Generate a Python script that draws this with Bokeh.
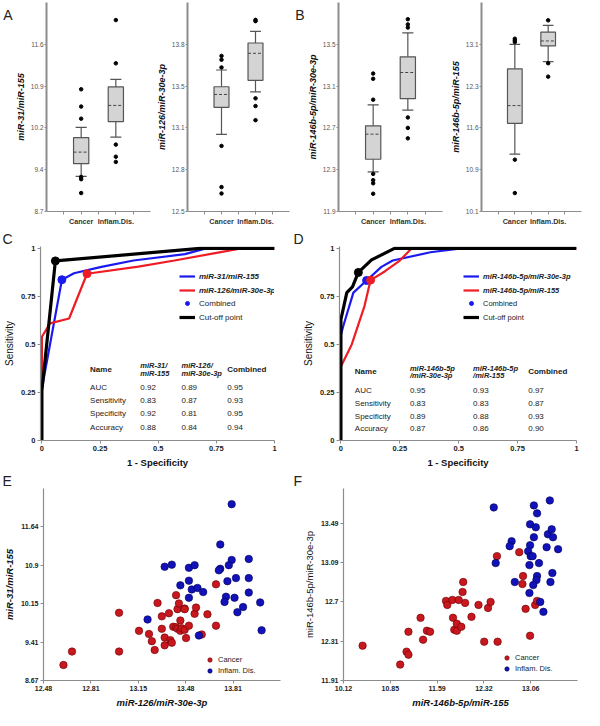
from bokeh.plotting import figure
from bokeh.layouts import column, row
from bokeh.models import Range1d, FixedTicker, Legend, LegendItem, LinearAxis, Title
from bokeh.core.properties import value
from bokeh.embed import file_html
from bokeh.resources import INLINE

FONT = "Liberation Sans"

# ---------------- A / B : box plots ----------------
box_groups = ["Cancer", "Inflam.Dis."]

a1_q1 = [9.53, 10.26]
a1_median = [9.73, 10.54]
a1_q3 = [9.98, 10.86]
a1_low = [9.31, 9.99]
a1_high = [10.16, 10.99]
a1_out_cancer = [10.82, 10.52, 10.31, 9.30, 9.26, 9.02]
a1_out_inflam = [12.02, 11.27, 9.86, 9.65, 9.56]
a1_ticks = ["8.7", "9.4", "10.2", "10.9", "11.6"]

a2_q1 = [13.31, 13.52]
a2_median = [13.41, 13.73]
a2_q3 = [13.47, 13.81]
a2_low = [13.10, 13.43]
a2_high = [13.60, 13.90]
a2_out_cancer = [13.71, 13.68, 13.62, 13.01, 12.69, 12.64]
a2_out_inflam = [13.99, 13.98, 13.38, 13.32, 13.21]
a2_ticks = ["12.5", "12.8", "13.1", "13.5", "13.8"]

b1_q1 = [12.40, 12.98]
b1_median = [12.64, 13.23]
b1_q3 = [12.72, 13.38]
b1_low = [12.28, 12.87]
b1_high = [12.92, 13.61]
b1_out_cancer = [13.22, 13.17, 12.97, 12.26, 12.20, 12.17, 12.07]
b1_out_inflam = [13.74, 13.69, 13.66, 12.80, 12.70, 12.60]
b1_ticks = ["11.9", "12.3", "12.7", "13.1", "13.5"]

b2_q1 = [11.68, 13.07]
b2_median = [12.00, 13.16]
b2_q3 = [12.66, 13.32]
b2_low = [11.13, 12.79]
b2_high = [13.10, 13.44]
b2_out_cancer = [13.20, 13.17, 13.14, 11.03, 10.43]
b2_out_inflam = [13.53, 12.76, 12.52]
b2_ticks = ["10.1", "10.9", "11.6", "12.3", "13.1"]

# ---------------- C / D : ROC curves ----------------
roc_ticks = ["0", "0.25", "0.5", "0.75", "1"]
c_blue_fpr = [0, 0, 0.086, 0.138, 0.256, 0.394, 0.615, 0.705, 1.0]
c_blue_tpr = [0, 0.27, 0.837, 0.871, 0.904, 0.937, 0.970, 1.0, 1.0]
c_red_fpr = [0, 0, 0.035, 0.117, 0.194, 0.415, 0.570, 0.857, 1.0]
c_red_tpr = [0, 0.54, 0.61, 0.635, 0.868, 0.905, 0.937, 1.0, 1.0]
c_black_fpr = [0, 0, 0.058, 0.68, 1.0]
c_black_tpr = [0, 0.26, 0.935, 1.0, 1.0]
c_cut_fpr = [0.086, 0.194, 0.058]
c_cut_tpr = [0.837, 0.868, 0.935]
c_names = ["miR-31/miR-155", "miR-126/miR-30e-3p"]
c_head1 = ["miR-31/", "miR-126/"]
c_head2 = ["miR-155", "miR-30e-3p"]
c_col1 = [0.92, 0.83, 0.92, 0.88]
c_col2 = [0.89, 0.87, 0.81, 0.84]
c_comb = [0.95, 0.93, 0.95, 0.94]

d_blue_fpr = [0, 0, 0.011, 0.053, 0.109, 0.172, 0.22, 0.38, 0.51, 1.0]
d_blue_tpr = [0, 0.55, 0.60, 0.77, 0.833, 0.904, 0.937, 0.98, 1.0, 1.0]
d_red_fpr = [0, 0, 0.046, 0.10, 0.126, 0.186, 0.25, 0.30, 1.0]
d_red_tpr = [0, 0.385, 0.50, 0.70, 0.835, 0.88, 0.937, 1.0, 1.0]
d_black_fpr = [0, 0, 0.025, 0.049, 0.074, 0.13, 0.227, 1.0]
d_black_tpr = [0, 0.63, 0.77, 0.80, 0.875, 0.94, 1.0, 1.0]
d_cut_fpr = [0.109, 0.126, 0.074]
d_cut_tpr = [0.833, 0.835, 0.875]
d_names = ["miR-146b-5p/miR-30e-3p", "miR-146b-5p/miR-155"]
d_head1 = ["miR-146b-5p", "miR-146b-5p"]
d_head2 = ["/miR-30e-3p", "/miR-155"]
d_col1 = [0.95, 0.83, 0.89, 0.87]
d_col2 = [0.93, 0.83, 0.88, 0.86]
d_comb = [0.97, 0.87, 0.93, 0.90]

table_rows = ["AUC", "Sensitivity", "Specificity", "Accuracy"]

# ---------------- E / F : scatter plots ----------------
e_cancer_x = [12.62, 12.68, 13.01, 13.01, 13.15, 13.22, 13.24, 13.26, 13.28, 13.31, 13.31, 13.33,
              13.33, 13.36, 13.37, 13.38, 13.41, 13.42, 13.43, 13.44, 13.39, 13.41, 13.42, 13.44,
              13.45, 13.47, 13.47, 13.47, 13.50, 13.48, 13.54, 13.55, 13.59, 13.63, 13.69, 13.69]
e_cancer_y = [8.97, 9.23, 9.98, 9.23, 9.63, 9.57, 9.43, 9.26, 10.17, 9.67, 9.91, 9.50,
              9.35, 9.97, 9.45, 9.40, 10.32, 10.05, 10.16, 9.83, 9.71, 9.70, 9.67, 9.63,
              9.68, 9.65, 10.06, 10.05, 9.73, 9.49, 9.96, 10.08, 9.56, 9.95, 10.53, 9.73]
e_inflam_x = [13.80, 13.72, 13.33, 13.38, 13.50, 13.54, 13.72, 13.71, 13.80, 13.78, 13.92, 13.44,
              13.50, 13.52, 13.56, 13.60, 13.50, 13.77, 13.83, 13.92, 13.76, 13.75, 13.82, 13.92,
              13.88, 13.84, 14.00, 14.01, 13.57, 13.21]
e_inflam_y = [12.08, 11.30, 10.87, 10.91, 10.85, 10.90, 10.83, 10.80, 11.00, 10.90, 11.02, 10.51,
              10.60, 10.43, 10.46, 10.38, 10.27, 10.59, 10.65, 10.65, 10.29, 10.19, 10.27, 10.37,
              10.09, 9.99, 10.18, 9.64, 9.54, 9.85]
e_xticks = ["12.48", "12.81", "13.15", "13.48", "13.81"]
e_yticks = ["8.67", "9.41", "10.15", "10.9", "11.64"]

f_cancer_x = [10.42, 11.01, 11.11, 11.14, 11.14, 11.33, 11.37, 11.43, 11.48, 11.73, 11.75, 11.83,
              11.84, 11.86, 11.90, 11.90, 11.93, 11.97, 12.00, 11.99, 12.03, 12.13, 12.24, 12.33,
              12.39, 12.43, 12.53, 12.54, 12.88, 12.94, 12.93, 12.98, 13.05, 13.13, 13.16]
f_cancer_y = [12.26, 12.07, 12.20, 12.17, 12.40, 12.54, 12.32, 12.41, 12.40, 12.71, 12.67, 12.72,
              12.54, 12.42, 12.41, 12.48, 12.72, 12.45, 12.90, 12.80, 12.69, 12.55, 12.67, 12.30,
              12.64, 12.70, 13.16, 12.30, 13.20, 12.96, 12.88, 12.63, 12.36, 12.67, 12.71]
f_inflam_x = [12.48, 13.11, 13.36, 13.16, 13.05, 13.14, 13.33, 13.39, 13.41, 13.11, 12.76, 12.73,
              13.05, 13.31, 13.49, 13.02, 13.06, 13.09, 12.51, 13.04, 13.19, 13.40, 13.16, 13.15,
              12.81, 13.37, 13.10, 13.04, 13.21, 13.26]
f_inflam_y = [13.65, 13.67, 13.72, 13.59, 13.48, 13.45, 13.38, 13.43, 13.35, 13.35, 13.31, 13.26,
              13.27, 13.25, 13.23, 13.21, 13.16, 13.16, 13.09, 13.07, 13.09, 12.99, 12.96, 12.92,
              12.90, 12.90, 12.87, 12.79, 12.70, 12.60]
f_xticks = ["10.12", "10.85", "11.59", "12.32", "13.06"]
f_yticks = ["11.91", "12.31", "12.7", "13.09", "13.49"]

# ---------------- styling / layout constants ----------------
H1, H2, H3 = 228, 242, 240
AX = "#8c8c8c"
BOXLINE = "#555555"
BLUE_L, RED_L = "#1a1aee", "#ee1c24"
RED_P, BLUE_P = "#c8171e", "#1212b8"
LETTER_SIZE = "14px"


def base_axes(p, tick_size="7px", tick_style="normal", tick_color="#333333", lw=1.5):
    for ax in (p.xaxis[0], p.yaxis[0]):
        ax.axis_line_color = AX
        ax.axis_line_width = lw
        ax.major_tick_line_color = AX
        ax.major_tick_out = 3
        ax.major_tick_in = 0
        ax.minor_tick_line_color = None
        ax.major_label_text_font = FONT
        ax.major_label_text_font_size = tick_size
        ax.major_label_text_font_style = tick_style
        ax.major_label_text_color = tick_color
        ax.major_label_standoff = 2
        ax.axis_label_text_font = FONT
        ax.axis_label_text_color = "#111111"
        ax.axis_label_standoff = 3
    p.xgrid.visible = False
    p.ygrid.visible = False
    p.outline_line_color = None
    p.background_fill_color = "white"
    p.border_fill_color = "white"


def title_letter(p, text, left):
    p.add_layout(Title(text=text, align="left", offset=-(left - 1), standoff=0,
                       text_font=FONT, text_font_size=LETTER_SIZE, text_font_style="normal",
                       text_color="#222222"), "above")


def box_panel(q1, med, q3, lo, hi, outc, outi, y0, step, ylabels, ytitle, width, left, right,
              tag=None):
    yt = [y0 + k * step for k in range(5)]
    y1 = y0 + 5 * step
    p = figure(width=width, height=H1, x_range=Range1d(0, 3), y_range=Range1d(y0, y1),
               output_backend="svg", toolbar_location=None, min_border_left=left,
               min_border_right=right, min_border_top=2, min_border_bottom=16)
    base_axes(p, tick_size="6.5px", tick_color="#555555")
    p.yaxis[0].axis_line_width = 2
    p.xaxis[0].axis_line_width = 1
    p.yaxis[0].major_tick_out = 2
    p.yaxis[0].major_label_standoff = 1
    p.yaxis[0].axis_label_standoff = 2
    xs = [1, 2]
    xt = [0.5, 1, 1.5, 2, 2.5]
    p.xaxis[0].ticker = FixedTicker(ticks=xt)
    p.xaxis[0].major_label_overrides = {0.5: "", 1: box_groups[0], 1.5: "", 2: box_groups[1], 2.5: ""}
    p.xaxis[0].major_label_text_font_style = "bold"
    p.xaxis[0].major_label_text_color = "#333333"
    p.xaxis[0].major_label_text_font_size = "7.2px"
    p.yaxis[0].ticker = FixedTicker(ticks=yt)
    p.yaxis[0].major_label_overrides = {t: s for t, s in zip(yt, ylabels)}
    p.yaxis[0].axis_label = ytitle
    p.yaxis[0].axis_label_text_font_style = "bold italic"
    p.yaxis[0].axis_label_text_font_size = "9px"
    cap = 0.16
    half = 0.22
    p.segment(x0=xs, y0=q3, x1=xs, y1=hi, line_color=BOXLINE, line_width=1.2)
    p.segment(x0=xs, y0=q1, x1=xs, y1=lo, line_color=BOXLINE, line_width=1.2)
    p.segment(x0=[x - cap for x in xs], y0=hi, x1=[x + cap for x in xs], y1=hi,
              line_color=BOXLINE, line_width=1.2)
    p.segment(x0=[x - cap for x in xs], y0=lo, x1=[x + cap for x in xs], y1=lo,
              line_color=BOXLINE, line_width=1.2)
    p.vbar(x=xs, bottom=q1, top=q3, width=2 * half, fill_color="#d4d4d4",
           line_color=BOXLINE, line_width=1.2)
    p.segment(x0=[x - half for x in xs], y0=med, x1=[x + half for x in xs], y1=med,
              line_color="#444444", line_width=1, line_dash="3 2")
    p.scatter(x=[1] * len(outc) + [2] * len(outi), y=outc + outi, size=3.5,
              color="black")
    if tag:
        # panel letter drawn as the single tick label of an outer left axis
        ly = y1 - 0.06 * (y1 - y0)
        la = LinearAxis(ticker=FixedTicker(ticks=[ly]), major_label_overrides={ly: tag},
                        axis_line_color=None, major_tick_line_color=None,
                        minor_tick_line_color=None, major_tick_out=0, major_tick_in=0,
                        major_label_standoff=0, major_label_text_font=FONT,
                        major_label_text_font_size=LETTER_SIZE, major_label_text_color="#222222")
        p.add_layout(la, "left")
    return p


def roc_panel(bf, bt, rf, rt, kf, kt, cf, ct, names, head1, head2, col1, col2, comb,
              left, right, tag, leg_x, leg_font, colx, heady, rowy):
    p = figure(width=292, height=H2, x_range=Range1d(-0.006, 1.0), y_range=Range1d(0, 1.01),
               output_backend="svg", toolbar_location=None, min_border_left=left,
               min_border_right=right, min_border_top=17, min_border_bottom=29)
    base_axes(p, tick_size="7.5px", tick_style="bold", tick_color="#222222", lw=1.2)
    tv = [0, 0.25, 0.5, 0.75, 1]
    for ax in (p.xaxis[0], p.yaxis[0]):
        ax.ticker = FixedTicker(ticks=tv)
        ax.major_label_overrides = {t: s for t, s in zip(tv, roc_ticks)}
    p.xaxis[0].axis_label = "1 - Specificity"
    p.xaxis[0].axis_label_text_font_style = "bold"
    p.xaxis[0].axis_label_text_font_size = "9.5px"
    p.yaxis[0].axis_label = "Sensitivity"
    p.yaxis[0].axis_label_text_font_style = "normal"
    p.yaxis[0].axis_label_text_font_size = "10px"
    rb = p.line(bf, bt, line_color=BLUE_L, line_width=2.2)
    rr = p.line(rf, rt, line_color=RED_L, line_width=2.2)
    rk = p.line(kf, kt, line_color="black", line_width=3.2)
    rd = p.scatter(x=cf, y=ct, size=8, fill_color=[BLUE_L, RED_L, "black"],
                   line_color=[BLUE_L, RED_L, "black"])
    common = dict(glyph_width=16, glyph_height=10, label_height=10, spacing=4, padding=0,
                  margin=0, border_line_alpha=0, background_fill_alpha=0, label_standoff=4,
                  label_text_font=FONT, label_text_font_size=leg_font, label_text_color="#222222")
    l1 = Legend(items=[LegendItem(label=names[0], renderers=[rb]),
                       LegendItem(label=names[1], renderers=[rr])],
                location=(leg_x, 145), label_text_font_style="bold italic", **common)
    l2 = Legend(items=[LegendItem(label="Combined", renderers=[rd], index=0),
                       LegendItem(label="Cut-off point", renderers=[rk])],
                location=(leg_x, 118), label_text_font_style="normal", **common)
    p.add_layout(l1)
    p.add_layout(l2)
    tf = dict(text_font=value(FONT), text_baseline="middle",
              text_align="left", text_color="#222222")
    p.text(x=[colx[0]], y=[(heady[0] + heady[1]) / 2], text=["Name"], text_font_style="bold",
           text_font_size="8px", **tf)
    p.text(x=colx[1:3], y=[heady[0]] * 2, text=head1, text_font_style="bold italic",
           text_font_size="7.5px", **tf)
    p.text(x=colx[1:3], y=[heady[1]] * 2, text=head2, text_font_style="bold italic",
           text_font_size="7.5px", **tf)
    p.text(x=[colx[3]], y=[(heady[0] + heady[1]) / 2], text=["Combined"],
           text_font_style="bold", text_font_size="8px", **tf)
    p.text(x=[colx[0]] * 4, y=rowy, text=table_rows, text_font_size="8px", **tf)
    for cx, vals in zip(colx[1:], (col1, col2, comb)):
        p.text(x=[cx] * 4, y=rowy, text=["%.2f" % v for v in vals], text_font_size="8px", **tf)
    title_letter(p, tag, left)
    return p


def scatter_panel(cx, cy, ix, iy, x0, xstep, y0, ystep, ytop, xlabels, ylabels, xtitle, ytitle,
                  ystyle, left, right, tag, leg_x, leg_y):
    p = figure(width=292, height=H3, x_range=Range1d(x0, x0 + 5 * xstep),
               y_range=Range1d(y0, ytop), output_backend="svg", toolbar_location=None,
               min_border_left=left, min_border_right=right, min_border_top=16,
               min_border_bottom=27)
    base_axes(p, tick_size="7px", tick_style="bold", tick_color="#222222", lw=1.2)
    xt = [x0 + k * xstep for k in range(5)]
    yt = [y0 + k * ystep for k in range(5)]
    p.xaxis[0].ticker = FixedTicker(ticks=xt)
    p.xaxis[0].major_label_overrides = {t: s for t, s in zip(xt, xlabels)}
    p.yaxis[0].ticker = FixedTicker(ticks=yt)
    p.yaxis[0].major_label_overrides = {t: s for t, s in zip(yt, ylabels)}
    p.xaxis[0].axis_label = xtitle
    p.xaxis[0].axis_label_text_font_style = "bold italic"
    p.xaxis[0].axis_label_text_font_size = "9.5px"
    p.yaxis[0].axis_label = ytitle
    p.yaxis[0].axis_label_text_font_style = ystyle
    p.yaxis[0].axis_label_text_font_size = "9.5px"
    r1 = p.scatter(cx, cy, size=7.5, fill_color=RED_P, line_color="#6a0000", line_width=0.6)
    r2 = p.scatter(ix, iy, size=7.5, fill_color=BLUE_P, line_color="#00005a", line_width=0.6)
    leg = Legend(items=[LegendItem(label="Cancer", renderers=[r1]),
                        LegendItem(label="Inflam. Dis.", renderers=[r2])],
                 location=(leg_x, leg_y), glyph_width=11, glyph_height=11, label_height=10,
                 spacing=0, padding=0, margin=0, border_line_alpha=0, background_fill_alpha=0,
                 label_standoff=3, label_text_font=FONT, label_text_font_size="7.5px",
                 label_text_color="#222222")
    p.add_layout(leg)
    title_letter(p, tag, left)
    return p


pA1 = box_panel(a1_q1, a1_median, a1_q3, a1_low, a1_high, a1_out_cancer, a1_out_inflam,
                8.7, 0.725, a1_ticks, "miR-31/miR-155", 153, 30, 3, "A")
pA2 = box_panel(a2_q1, a2_median, a2_q3, a2_low, a2_high, a2_out_cancer, a2_out_inflam,
                12.5, 0.325, a2_ticks, "miR-126/miR-30e-3p", 139, 30, 3)
pB1 = box_panel(b1_q1, b1_median, b1_q3, b1_low, b1_high, b1_out_cancer, b1_out_inflam,
                11.9, 0.4, b1_ticks, "miR-146b-5p/miR-30e-3p", 153, 36, 3, "B")
pB2 = box_panel(b2_q1, b2_median, b2_q3, b2_low, b2_high, b2_out_cancer, b2_out_inflam,
                10.1, 0.75, b2_ticks, "miR-146b-5p/miR-155", 139, 36, 3)

pC = roc_panel(c_blue_fpr, c_blue_tpr, c_red_fpr, c_red_tpr, c_black_fpr, c_black_tpr,
               c_cut_fpr, c_cut_tpr, c_names, c_head1, c_head2, c_col1, c_col2, c_comb,
               39, 18, "C", 139, "8px", [0.207, 0.423, 0.60, 0.797], [0.388, 0.348],
               [0.277, 0.208, 0.139, 0.069])
pD = roc_panel(d_blue_fpr, d_blue_tpr, d_red_fpr, d_red_tpr, d_black_fpr, d_black_tpr,
               d_cut_fpr, d_cut_tpr, d_names, d_head1, d_head2, d_col1, d_col2, d_comb,
               47, 8, "D", 124, "7.5px", [0.059, 0.293, 0.561, 0.795], [0.377, 0.337],
               [0.262, 0.193, 0.124, 0.06])

pE = scatter_panel(e_cancer_x, e_cancer_y, e_inflam_x, e_inflam_y, 12.48, 0.3325, 8.67, 0.7425,
                   12.3825, e_xticks, e_yticks, "miR-126/miR-30e-3p", "miR-31/miR-155",
                   "bold italic", 42, 12, "E", 161, 4)
pF = scatter_panel(f_cancer_x, f_cancer_y, f_inflam_x, f_inflam_y, 10.12, 0.735, 11.91, 0.395,
                   13.84, f_xticks, f_yticks, "miR-146b-5p/miR-155", "miR-146b-5p/miR-30e-3p",
                   "normal", 51, 7, "F", 158, 6)

layout = column(row(pA1, pA2, pB1, pB2), row(pC, pD), row(pE, pF))
open("out.html", "w").write(file_html(layout, INLINE))
